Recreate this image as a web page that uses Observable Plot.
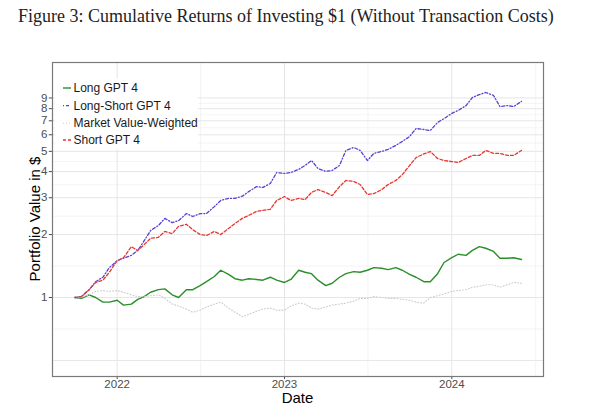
<!DOCTYPE html>
<html><head><meta charset="utf-8">
<script src="https://cdn.jsdelivr.net/npm/d3@7"></script>
<script src="https://cdn.jsdelivr.net/npm/@observablehq/plot@0.6"></script>
<style>
body{margin:0;background:#fff;width:600px;height:410px;overflow:hidden;position:relative;}
#title{position:absolute;left:18px;top:6px;font-family:"Liberation Serif","Times New Roman",serif;font-size:18px;color:#222;white-space:nowrap;}
#chart{position:absolute;left:0;top:40px;}
</style></head><body>
<div id="title">Figure 3: Cumulative Returns of Investing $1 (Without Transaction Costs)</div>
<div id="chart"></div>
<script>
const dates = [
 "2021-10-01","2021-10-15","2021-11-01","2021-11-15","2021-12-01","2021-12-15",
 "2022-01-01","2022-01-15","2022-02-01","2022-02-15","2022-03-01","2022-03-15",
 "2022-04-01","2022-04-15","2022-05-01","2022-05-15","2022-06-01","2022-06-15",
 "2022-07-01","2022-07-15","2022-08-01","2022-08-15","2022-09-01","2022-09-15",
 "2022-10-01","2022-10-15","2022-11-01","2022-11-15","2022-12-01","2022-12-15",
 "2023-01-01","2023-01-15","2023-02-01","2023-02-15","2023-03-01","2023-03-15",
 "2023-04-01","2023-04-15","2023-05-01","2023-05-15","2023-06-01","2023-06-15",
 "2023-07-01","2023-07-15","2023-08-01","2023-08-15","2023-09-01","2023-09-15",
 "2023-10-01","2023-10-15","2023-11-01","2023-11-15","2023-12-01","2023-12-15",
 "2024-01-01","2024-01-15","2024-02-01","2024-02-15","2024-03-01","2024-03-15",
 "2024-04-01","2024-04-15","2024-05-01","2024-05-15","2024-06-01"
];
const longGPT4 = [1.00,0.99,1.03,1.00,0.95,0.95,0.97,0.92,0.93,0.98,
 1.01,1.06,1.09,1.10,1.03,1.00,1.09,1.09,1.14,1.19,
 1.26,1.35,1.29,1.23,1.21,1.23,1.22,1.21,1.25,1.21,
 1.18,1.22,1.35,1.32,1.30,1.21,1.14,1.17,1.25,1.30,
 1.33,1.32,1.35,1.39,1.38,1.36,1.39,1.35,1.29,1.25,
 1.19,1.19,1.30,1.47,1.55,1.61,1.59,1.68,1.75,1.72,
 1.66,1.54,1.54,1.55,1.52];
const longShortGPT4 = [1.00,1.01,1.09,1.19,1.25,1.39,1.50,1.54,1.59,1.68,
 1.87,2.09,2.21,2.39,2.28,2.33,2.52,2.44,2.52,2.52,
 2.72,2.91,2.98,2.98,3.05,3.21,3.39,3.36,3.51,3.96,
 3.92,3.96,4.10,4.28,4.52,4.14,4.01,4.05,4.28,5.05,
 5.22,5.05,4.52,4.89,4.99,5.11,5.34,5.58,5.89,6.43,
 6.36,6.29,6.87,7.17,7.59,7.85,8.27,9.05,9.34,9.56,
 9.25,8.19,8.27,8.19,8.67];
const marketVW = [1.00,1.00,1.03,1.07,1.08,1.07,1.08,1.06,1.03,1.01,
 1.01,1.02,1.03,0.99,0.93,0.91,0.88,0.85,0.87,0.90,
 0.93,0.95,0.89,0.85,0.81,0.83,0.86,0.88,0.89,0.87,
 0.87,0.91,0.94,0.93,0.89,0.88,0.90,0.92,0.93,0.94,
 0.96,0.99,0.99,1.01,1.00,0.99,0.99,0.98,0.97,0.95,
 0.94,1.00,1.02,1.04,1.07,1.08,1.09,1.12,1.13,1.15,
 1.15,1.12,1.15,1.18,1.17];
const shortGPT4 = [1.00,1.01,1.09,1.18,1.21,1.32,1.50,1.55,1.75,1.68,
 1.79,1.92,1.94,2.07,2.02,2.19,2.24,2.11,2.00,1.98,
 2.07,2.00,2.14,2.26,2.39,2.47,2.58,2.61,2.64,2.91,
 3.04,2.91,2.98,2.94,3.18,3.28,3.18,3.07,3.39,3.63,
 3.59,3.47,3.11,3.14,3.28,3.47,3.63,3.87,4.28,4.67,
 4.86,4.99,4.62,4.52,4.47,4.42,4.62,4.78,4.78,5.05,
 4.89,4.89,4.78,4.78,5.05];
const seriesNames = ["Long GPT 4","Long-Short GPT 4","Market Value-Weighted","Short GPT 4"];
const yTickValues = [1,2,3,4,5,6,7,8,9];
const yTickLabels = ["1","2","3","4","5","6","7","8","9"];
const majorYBreaks = [0.5,1,2,3,4,5,6,7,8,9];
const minorYBreaks = [0.707,1.414,2.449,3.464,4.472,5.477,6.481,7.483,8.485];
const xTickDates = ["2022-01-01","2023-01-01","2024-01-01"];
const xTickLabels = ["2022","2023","2024"];
const minorXDates = ["2022-07-02","2023-07-02","2024-07-02"];

const parse = d3.utcParse("%Y-%m-%d");
const xDomain = [parse("2021-08-13"), parse("2024-07-19")];
const yDomain = [0.419, 13.3];
const styles = [
 {values: longGPT4, stroke:"#2a8f2a", dash:null, width:1.4},
 {values: longShortGPT4, stroke:"#5b3fd2", dash:"1,2,3,2", width:1.3},
 {values: marketVW, stroke:"#cdcdcd", dash:"1,2", width:1.1},
 {values: shortGPT4, stroke:"#e8352f", dash:"3,2", width:1.3}
];
const rows = s => dates.map((d,i)=>({date:parse(d), value:s.values[i]}));
const yTicks = yTickValues.map((v,i)=>({v, label:yTickLabels[i]}));
const xTicks = xTickDates.map((d,i)=>({d:parse(d), label:xTickLabels[i]}));

const svg = Plot.plot({
  width:600, height:370, marginTop:22, marginBottom:34, marginLeft:52, marginRight:57,
  style:{fontFamily:"'Liberation Sans', Arial, sans-serif", fontSize:"11.5px", color:"#4d4d4d", background:"#fff"},
  x:{type:"utc", domain:xDomain, axis:null},
  y:{type:"log", domain:yDomain, axis:null},
  marks:[
    Plot.ruleY(minorYBreaks, {stroke:"#ececec", strokeWidth:0.6}),
    Plot.ruleY(majorYBreaks, {stroke:"#e6e6e6", strokeWidth:1}),
    Plot.ruleX(minorXDates.map(parse), {stroke:"#ececec", strokeWidth:0.6}),
    Plot.ruleX(xTickDates.map(parse), {stroke:"#e6e6e6", strokeWidth:1}),
    ...styles.map(s => Plot.line(rows(s), {x:"date", y:"value", stroke:s.stroke, strokeWidth:s.width, strokeDasharray:s.dash})),
    Plot.ruleX(xTicks, {x:"d", y1:yDomain[0], y2:0.405, stroke:"#4d4d4d", clip:false}),
    Plot.ruleY(yTicks, {y:"v", x1:xDomain[0], x2:parse("2021-08-06"), stroke:"#4d4d4d", clip:false}),
    Plot.text(xTicks, {x:"d", y:yDomain[0], text:"label", lineAnchor:"top", dy:3, fill:"#4d4d4d", fontSize:11.5}),
    Plot.text(yTicks, {x:xDomain[0], y:"v", text:"label", textAnchor:"end", dx:-5, fill:"#4d4d4d", fontSize:11.5}),
    Plot.frame({stroke:"#7a7a7a", strokeWidth:1.2})
  ]
});
document.getElementById("chart").appendChild(svg);

const g = d3.select(svg);
// axis titles
g.append("text").attr("transform","translate(34,179) rotate(-90)").attr("text-anchor","middle")
  .attr("dominant-baseline","central").style("font-size","15px").attr("fill","#000").text("Portfolio Value in $");
g.append("text").attr("x",297.5).attr("y",363).attr("text-anchor","middle")
  .style("font-size","15px").attr("fill","#000").text("Date");
// legend
const lg = g.append("g").attr("text-anchor","start");
lg.append("rect").attr("x",55).attr("y",38).attr("width",143).attr("height",71).attr("fill","#fff");
const ly = [48,65.7,83.3,100];
seriesNames.forEach((n,i)=>{
  lg.append("line").attr("x1",63).attr("x2",71).attr("y1",ly[i]).attr("y2",ly[i])
    .attr("stroke",styles[i].stroke).attr("stroke-width",styles[i].width)
    .attr("stroke-dasharray",styles[i].dash);
  lg.append("text").attr("x",73.5).attr("y",ly[i]).attr("dominant-baseline","central")
    .attr("text-anchor","start").style("font-size","12px").attr("fill","#1a1a1a").text(n);
});
</script>
</body></html>
